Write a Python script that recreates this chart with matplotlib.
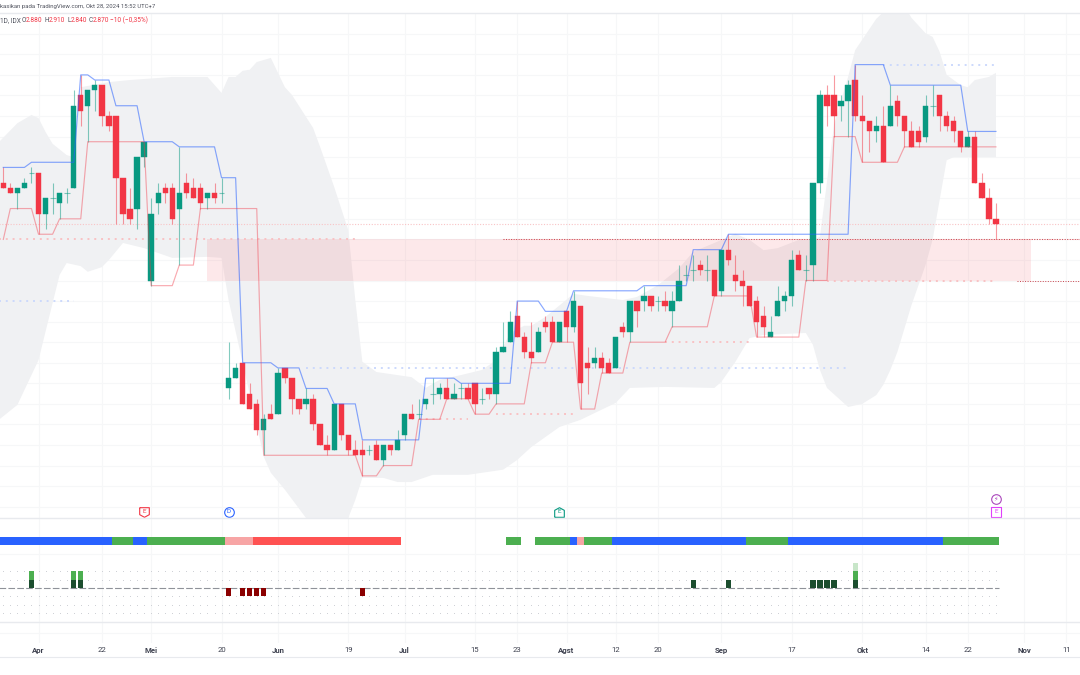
import numpy as np
import matplotlib
matplotlib.use("Agg")
import matplotlib.pyplot as plt
from matplotlib.lines import Line2D

plt.rcParams['font.family'] = ['Roboto', 'DejaVu Sans']

opens = [2950,2940,2930,2940,2970,2970,2890,2920,2910,2930,
         2940,3120,3100,3130,3140,3080,3080,2960,2900,2900,
         3000,2760,2910,2940,2940,2900,2950,2940,2940,2920,
         2930,2930,2550,2570,2600,2540,2520,2470,2500,2500,
         2590,2570,2530,2520,2530,2480,2440,2430,2520,2460,
         2430,2430,2430,2440,2410,2440,2430,2460,2500,2500,
         2520,2540,2540,2550,2530,2550,2550,2560,2530,2550,
         2540,2620,2640,2690,2650,2620,2620,2680,2680,2640,
         2700,2670,2710,2600,2600,2610,2600,2590,2670,2660,
         2720,2720,2730,2720,2720,2700,2720,2770,2780,2790,
         2780,2780,2740,2820,2770,2760,2750,2720,2690,2650,
         2690,2720,2730,2810,2780,2790,2950,3120,3120,3100,
         3110,3150,3080,3070,3050,3060,3060,3110,3080,3050,
         3050,3040,3100,3120,3080,3070,3050,3020,3040,2950,
         2920,2880]
highs = [2980,2950,2940,2960,2980,2970,2920,2950,2930,2940,
         3130,3160,3130,3150,3140,3090,3080,2960,2940,3000,
         3030,2920,2950,2950,2950,3020,2970,2960,2950,2930,
         2950,2960,2640,2600,2600,2560,2530,2500,2520,2590,
         2590,2570,2530,2550,2540,2480,2460,2520,2520,2460,
         2450,2450,2440,2450,2440,2440,2470,2500,2520,2530,
         2530,2570,2560,2570,2560,2560,2560,2560,2550,2550,
         2630,2680,2700,2720,2660,2680,2670,2690,2690,2680,
         2700,2740,2710,2630,2630,2620,2610,2650,2680,2720,
         2720,2750,2730,2730,2740,2740,2790,2790,2810,2800,
         2810,2780,2820,2850,2810,2780,2750,2730,2710,2690,
         2750,2740,2820,2820,2810,2950,3130,3140,3160,3120,
         3150,3180,3120,3070,3080,3100,3140,3120,3080,3070,
         3060,3120,3140,3120,3090,3080,3050,3050,3050,2970,
         2940,2910]
lows = [2940,2930,2900,2940,2950,2850,2860,2890,2880,2910,
        2940,3060,3030,3090,3060,3050,2870,2870,2870,2860,
        2980,2750,2890,2910,2870,2790,2920,2920,2900,2900,
        2910,2910,2530,2570,2520,2510,2460,2420,2490,2500,
        2560,2500,2500,2510,2470,2440,2420,2430,2450,2420,
        2420,2380,2420,2410,2400,2420,2430,2450,2490,2490,
        2510,2520,2530,2530,2530,2530,2530,2500,2520,2530,
        2520,2620,2640,2650,2610,2600,2620,2660,2640,2640,
        2640,2660,2510,2540,2590,2580,2580,2590,2650,2640,
        2670,2700,2700,2700,2700,2670,2720,2760,2760,2770,
        2760,2730,2730,2790,2740,2710,2710,2650,2650,2650,
        2690,2700,2710,2780,2760,2760,2930,3060,3040,3070,
        3040,3070,2990,3010,3030,2990,3060,3060,3020,3020,
        3020,3030,3080,3050,3050,3030,3010,3020,2950,2920,
        2870,2840]
closes = [2940,2930,2940,2950,2970,2890,2920,2920,2930,2930,
          3100,3090,3130,3140,3080,3060,2960,2890,2880,3000,
          3030,2890,2930,2930,2880,2930,2930,2920,2910,2930,
          2920,2930,2570,2590,2520,2510,2470,2490,2490,2580,
          2570,2530,2510,2530,2480,2440,2430,2520,2460,2430,
          2420,2420,2430,2410,2440,2430,2450,2500,2490,2500,
          2530,2540,2550,2530,2540,2550,2530,2520,2530,2540,
          2620,2630,2680,2650,2620,2610,2660,2670,2640,2680,
          2670,2720,2560,2590,2610,2590,2580,2650,2660,2720,
          2700,2730,2710,2720,2710,2720,2760,2770,2780,2780,
          2780,2730,2820,2800,2760,2750,2710,2680,2670,2660,
          2720,2730,2800,2780,2780,2950,3120,3100,3080,3110,
          3140,3080,3070,3050,3060,2990,3100,3080,3050,3020,
          3030,3100,3100,3080,3060,3050,3020,3040,2950,2920,
          2880,2870]

# Stepped channel lines, as (first bar of each level, level)
upper_bars = [0,4,11,13,16,20,25,31,34,39,43,47,51,60,65,73,77,81,91,98,103,121,126,137]
upper_vals = [2980,2990,3160,3150,3100,3030,3020,2960,2600,2590,2550,2520,2450,2570,2560,
              2720,2700,2740,2750,2820,2850,3180,3140,3050]
lower_bars = [0,1,5,8,12,21,25,28,37,51,54,59,63,67,70,75,78,82,85,89,95,101,107,114,118,122,128]
lower_vals = [2840,2900,2850,2880,3030,2750,2790,2900,2420,2380,2400,2490,2530,2500,2520,
              2600,2640,2510,2580,2640,2670,2730,2650,2760,3040,2990,3020]

# Grey band outline
band_up_bars = [-1,2,4,5,6,7,9,10,11,15,18,24,29,31,32,33,34,35,36,38,40,41,44,45,47,49,50,51,53,
                58,60,62,65,68,70,72,74,75,77,81,83,88,90,93,96,98,101,104,106,108,110,113,115,116,
                117,118,120,121,124,126,127,128,129,131,132,133,134,136,137,138,140,141]
band_up_vals = [3024,3066,3082,3076,3049,3026,3004,3000,3136,3146,3150,3156,3156,3125,3156,3156,
                3168,3170,3185,3193,3136,3121,3057,3020,2942,2858,2722,2602,2582,2572,2551,2567,
                2576,2586,2605,2658,2672,2672,2689,2734,2730,2722,2728,2751,2784,2816,2833,2851,
                2839,2819,2823,2839,2839,2845,2952,3063,3156,3208,3269,3295,3320,3295,3271,3241,
                3234,3205,3160,3140,3136,3150,3156,3164]
band_lo_bars = [-1,2,5,7,8,9,11,12,14,15,17,20,24,29,31,32,34,37,38,40,43,46,47,49,50,51,54,56,58,
                61,66,71,73,75,79,82,87,89,94,101,102,104,106,108,114,115,116,117,120,122,124,125,
                126,127,129,131,132,134,135,141]
band_lo_vals = [2485,2518,2605,2716,2771,2794,2788,2777,2786,2800,2833,2823,2804,2806,2804,2722,
                2600,2417,2386,2353,2298,2270,2270,2298,2333,2376,2376,2368,2368,2382,2382,2392,
                2411,2436,2475,2489,2522,2551,2553,2551,2563,2602,2648,2654,2658,2635,2586,2551,
                2514,2520,2537,2557,2586,2621,2712,2790,2839,2994,3000,3000]

zone_bars = [29, 146]
zone_prices = [2760, 2840]

# price, first bar, last bar
fine_pink = [(2870, -1, 154), (2840, 71, 154)]
wide_pink = [(2840, -1, 50), (2500, 70, 81), (2490, 59, 66), (2640, 94, 106), (2760, 117, 141)]
wide_blue = [(2720, -1, 10), (2590, 43, 120), (3180, 125, 141)]
fine_dark = [(2840, 71, 154), (2760, 144, 154)]

regime_starts = [0,16,19,21,32,36,72,76,81,82,83,87,106,112,134]
regime_ends   = [16,19,21,32,36,57,74,81,82,83,87,106,112,134,142]
regime_colors = ['#2962ff','#4caf50','#2962ff','#4caf50','#f7a5a5','#ff5252','#4caf50','#4caf50',
                 '#2962ff','#f7a5a5','#4caf50','#2962ff','#4caf50','#2962ff','#4caf50']

score_bars = [4,10,11,32,34,35,36,37,51,98,103,115,116,117,118,121]
score_vals = [2,2,2,-1,-1,-1,-1,-1,-1,1,1,1,1,1,1,3]
score_levels = [2,1,-1,-2,-3]

tick_bars = [5,14,21,31,39,49,57,67,73,80,87,93,102,112,122,131,137,145,151]
tick_text = ['Apr','22','Mei','20','Jun','19','Jul','15','23','Agst','12','20','Sep','17','Okt','14','22','Nov','11']
month_ticks = ['Apr','Mei','Jun','Jul','Agst','Sep','Okt','Nov']

events = [(20,2310,'E','#f23645','shield'),(32,2310,'D','#2962ff','o'),(79,2310,'E','#089981','house'),
          (141,2335,'\u26a1','#ab47bc','o'),(141,2310,'E','#e040fb','s')]

W, H = 1080, 675
XL = (-0.469, 152.94)
GRID = '#f6f7f8'
BORDER = '#e8eaee'
UP, DOWN = '#089981', '#f23645'

fig = plt.figure(figsize=(W/100, H/100), dpi=100, facecolor='white')

def pane(top, bottom):
    a = fig.add_axes([0, (H-bottom)/H, 1, (bottom-top)/H])
    a.set_xlim(*XL)
    a.set_xticks(tick_bars)
    a.tick_params(length=0, labelbottom=False, labelleft=False)
    a.grid(True, axis='x', color=GRID, lw=0.8)
    a.set_axisbelow(True)
    for k, s in a.spines.items():
        s.set_visible(k == 'top')
        s.set_color(BORDER)
        s.set_linewidth(1.0)
    return a

ax = pane(13, 518)
ax.set_ylim(2298, 3280.4)
ax.set_yticks(np.arange(2320, 3280, 40))
ax.grid(True, axis='y', color=GRID, lw=0.8)

ax.fill(np.r_[band_up_bars, band_lo_bars[::-1]], np.r_[band_up_vals, band_lo_vals[::-1]],
        color='#f0f1f3', lw=0, zorder=1)
ax.fill_between(zone_bars, zone_prices[0], zone_prices[1], color='#f23645', alpha=0.11, lw=0, zorder=2)

for p, a_, b_ in fine_pink:
    ax.plot([a_, b_], [p, p], color='#f9c4c6', lw=0.8, ls=(0, (1, 1.5)), zorder=2)
for p, a_, b_ in wide_pink:
    ax.plot([a_, b_], [p, p], color='#f9c2c4', lw=1.4, ls=(0, (1, 2.5)), zorder=2)
for p, a_, b_ in wide_blue:
    ax.plot([a_, b_], [p, p], color='#ccd9fc', lw=1.4, ls=(0, (1, 2.5)), zorder=2)
for p, a_, b_ in fine_dark:
    ax.plot([a_, b_], [p, p], color='#c9434c', lw=0.7, ls=(0, (1, 1.6)), zorder=2)

bars = np.arange(len(opens))
o, h, l, c = map(np.array, (opens, highs, lows, closes))
up = c >= o
cols = np.where(up, UP, DOWN)
ax.vlines(bars, l, h, colors=cols, lw=0.8, alpha=0.5, zorder=3)
solid = o != c
ax.bar(bars[solid], np.abs(c-o)[solid], bottom=np.minimum(o, c)[solid], width=0.76,
       color=cols[solid], edgecolor=cols[solid], lw=0.3, zorder=4)
ax.hlines(c[~solid], bars[~solid]-0.42, bars[~solid]+0.42, colors=UP, lw=0.8, alpha=0.5, zorder=4)

def stepped(starts, vals):
    lens = np.diff(np.r_[starts, len(opens)])
    return np.repeat(vals, lens)

ax.plot(bars, stepped(upper_bars, upper_vals), color='#2962ff', alpha=0.55, lw=0.85, zorder=5)
ax.plot(bars, stepped(lower_bars, lower_vals), color='#f23645', alpha=0.42, lw=0.85, zorder=5)

shield = [(-1, 1), (1, 1), (1, -0.45), (0, -1), (-1, -0.45), (-1, 1)]
house = [(-1, -1), (1, -1), (1, 0.45), (0, 1), (-1, 0.45), (-1, -1)]
for b, p, t, col, m in events:
    mk = {'shield': shield, 'house': house}.get(m, m)
    ax.scatter([b], [p], marker=mk, s=48, facecolor='white', edgecolor=col, lw=0.8, zorder=6, clip_on=False)
    ax.text(b, p, t, color=col, fontsize=4.6, ha='center', va='center', zorder=7)

ax2 = pane(518, 622)
ax2.set_ylim(-(622-588)/8.3, (588-518)/8.3)
ax2.set_yticks([(588-554)/8.3])
ax2.grid(True, axis='y', color=GRID, lw=0.8)
# regime strip is positioned in pane coordinates
for s, e, col in zip(regime_starts, regime_ends, regime_colors):
    ax2.fill_between([s-0.53, e-0.53], (588-545)/8.3, (588-537)/8.3, color=col, lw=0, zorder=3)
dot_x = np.arange(0, len(opens))
for lev in score_levels:
    ax2.plot(dot_x, np.full_like(dot_x, lev, dtype=float), ls='', marker='s', ms=0.7, mew=0,
             color='#cfd1d6', zorder=2)
ax2.plot([-1, 141.4], [0, 0], color='#8f9299', lw=0.8, ls=(0, (6, 2)), zorder=3)
level_cols = {1: '#1b4d2e', 2: '#4caf50', 3: '#c8e6c9', -1: '#8b0000'}
for b, v in zip(score_bars, score_vals):
    if v > 0:
        for k in range(1, v+1):
            ax2.bar(b, 1, bottom=k-1, width=0.74, color=level_cols[k], zorder=4)
    else:
        ax2.bar(b, 1, bottom=-1, width=0.74, color=level_cols[-1], zorder=4)

ax3 = pane(622, 643)
ax3.set_ylim(0, 21)
ax3.set_yticks([10])
ax3.grid(True, axis='y', color=GRID, lw=0.8)
ax3.set_xticklabels(tick_text)
ax3.tick_params(axis='x', labelbottom=True, pad=3, labelsize=5.6, labelcolor='#3f4250')
for lab in ax3.get_xticklabels():
    if lab.get_text() in month_ticks:
        lab.set_fontweight('bold')

fig.add_artist(Line2D([0, 1], [(H-657)/H]*2, color=BORDER, lw=0.8))
fig.text(0, 1-6.5/H, 'kasikan pada TradingView.com, Okt 28, 2024 15:52 UTC+7', fontsize=4.35,
         color='#50535e', va='center', ha='left')

header = [(0.5, '1D, IDX', '#50535e'), (22, 'O', '#50535e'), (26, '2.880', DOWN), (44.5, 'H', '#50535e'),
          (49, '2.910', DOWN), (67, 'L', '#50535e'), (71, '2.840', DOWN), (88.5, 'C', '#50535e'),
          (93, '2.870', DOWN), (110, '\u221210 (\u22120,35%)', DOWN)]
for x, t, col in header:
    fig.text(x/W, 1-20.5/H, t, fontsize=4.7, color=col, va='center', ha='left')

fig.savefig('out.png', dpi=100, facecolor='white')
